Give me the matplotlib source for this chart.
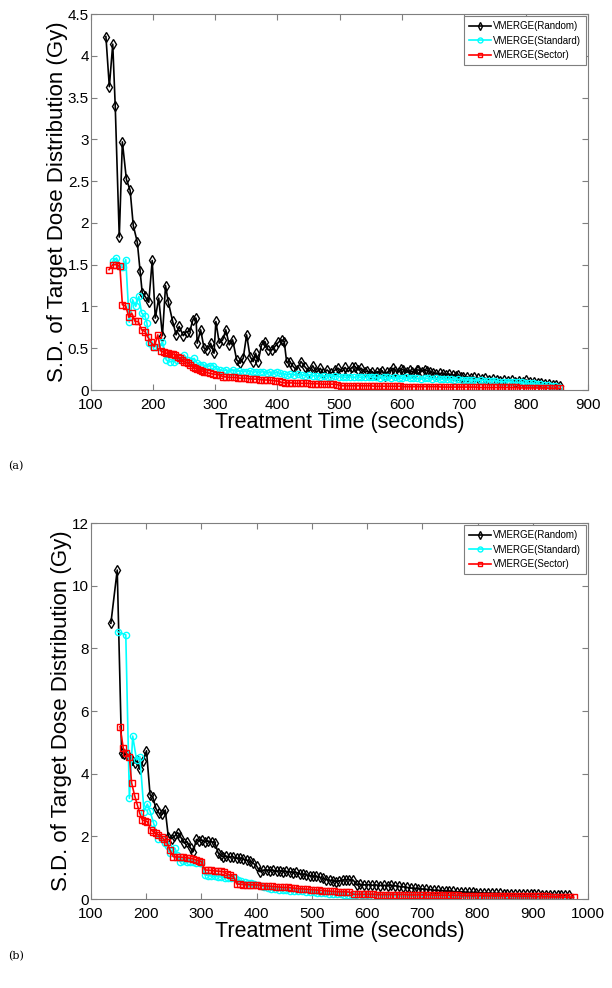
import matplotlib
matplotlib.use("Agg")
import matplotlib.pyplot as plt

plt.rcParams['font.family'] = ['Liberation Sans', 'DejaVu Sans']

# ---------------- (a) : (time s, S.D. Gy) ----------------
a_random = [(124, 4.23), (129.5, 3.63), (135, 4.14), (139, 3.40), (145.5, 1.83), (150.5, 2.97), (157, 2.52),
            (163, 2.39), (168, 1.97), (174.5, 1.77), (179, 1.43), (182.5, 1.16), (187, 1.12), (193, 1.05),
            (198.5, 1.55), (203.5, 0.86), (209, 1.10), (215, 0.65), (220, 1.25), (224.5, 1.05), (231.5, 0.82),
            (237, 0.66), (242, 0.76), (248.5, 0.65), (254, 0.70), (259, 0.70), (264, 0.84), (269, 0.86),
            (271, 0.56), (276.5, 0.72), (282, 0.50), (287, 0.48), (292.5, 0.56), (298, 0.44), (301, 0.82),
            (306.5, 0.56), (312, 0.60), (317, 0.72), (322.5, 0.54), (328, 0.60), (334.5, 0.36), (340, 0.32),
            (345, 0.38), (350.5, 0.66), (356, 0.40), (361, 0.34), (365, 0.44), (369, 0.34), (374.5, 0.54),
            (380, 0.58), (385, 0.48), (391, 0.48), (396, 0.52), (401.5, 0.57), (407, 0.60), (411, 0.58),
            (415, 0.33), (420, 0.34), (425.5, 0.28), (431, 0.24), (438, 0.34),
            (444, 0.28), (451, 0.22), (457, 0.29), (463, 0.21), (469, 0.26), (474, 0.20), (480, 0.24),
            (486, 0.20), (493, 0.24), (498, 0.26), (504, 0.22), (509, 0.27), (514, 0.22), (520, 0.27),
            (525, 0.28), (530, 0.24), (535, 0.26), (541, 0.21), (545, 0.23), (549, 0.19), (553, 0.22),
            (557, 0.18), (561, 0.22), (565, 0.20), (569, 0.23), (573, 0.17), (577, 0.21), (581, 0.22),
            (586, 0.26), (590, 0.23), (595, 0.22), (599, 0.25), (603, 0.24), (608, 0.21), (613, 0.235),
            (617, 0.22), (621, 0.20), (624, 0.24), (627, 0.24), (632, 0.22), (637, 0.245), (641, 0.23),
            (646, 0.21), (651, 0.20), (656, 0.19), (661, 0.20), (667, 0.19), (672, 0.18), (677, 0.19),
            (683, 0.18), (687, 0.17), (691, 0.18), (695, 0.16), (699, 0.15), (705, 0.16), (711, 0.14),
            (717, 0.15), (723, 0.14), (729, 0.13), (735, 0.14), (741, 0.12), (747, 0.13), (753, 0.12),
            (759, 0.11), (765, 0.12), (771, 0.11), (777, 0.12), (783, 0.10), (789, 0.11), (795, 0.10),
            (801, 0.12), (807, 0.09), (813, 0.10), (819, 0.08), (825, 0.08), (831, 0.07), (837, 0.07),
            (843, 0.06), (849, 0.06), (855, 0.05)]

a_standard = [(135, 1.54), (141, 1.58), (148, 1.47), (152, 1.47), (156, 1.56), (161.5, 0.81), (167, 1.08),
              (172, 1.00), (177, 1.12), (181.5, 0.92), (187, 0.88), (190, 0.80), (194, 0.56), (199, 0.52),
              (205, 0.52), (211, 0.52), (215, 0.58), (221, 0.36), (227, 0.34), (233, 0.34), (239, 0.36),
              (244, 0.38), (250, 0.42), (256, 0.36), (261, 0.35), (266, 0.38), (271, 0.32), (276, 0.30),
              (281, 0.30), (287, 0.28), (292, 0.29), (297, 0.29), (302, 0.25), (307, 0.24), (313, 0.23),
              (318, 0.24), (323, 0.22), (329, 0.24), (334, 0.22), (339, 0.23), (345, 0.22), (350, 0.22),
              (356, 0.23), (361, 0.21), (366, 0.22), (372, 0.21), (377, 0.22), (383, 0.20), (388, 0.21),
              (394, 0.20), (399, 0.21), (404, 0.20), (410, 0.19), (415, 0.18), (421, 0.19), (427, 0.18),
              (433, 0.19), (439, 0.18), (445, 0.17), (451, 0.18), (457, 0.17), (463, 0.17), (469, 0.16),
              (475, 0.17), (481, 0.16), (487, 0.16), (493, 0.17), (499, 0.16), (505, 0.16), (511, 0.15),
              (517, 0.16), (523, 0.15), (529, 0.16), (535, 0.15), (541, 0.15), (547, 0.16), (553, 0.15),
              (559, 0.15), (565, 0.14), (571, 0.15), (577, 0.15), (583, 0.14), (589, 0.15), (595, 0.14),
              (601, 0.14), (607, 0.15), (613, 0.14), (619, 0.14), (625, 0.14), (631, 0.13), (637, 0.14),
              (643, 0.14), (649, 0.13), (655, 0.14), (661, 0.13), (667, 0.13), (673, 0.13), (679, 0.13),
              (685, 0.12), (691, 0.13), (697, 0.12), (703, 0.12), (709, 0.12), (715, 0.12), (721, 0.11),
              (727, 0.12), (733, 0.11), (739, 0.11), (745, 0.11), (751, 0.11), (757, 0.10), (763, 0.10),
              (769, 0.10), (775, 0.10), (781, 0.09), (787, 0.09), (793, 0.09), (799, 0.08), (805, 0.08),
              (811, 0.08), (817, 0.07), (823, 0.07), (829, 0.06), (835, 0.06), (841, 0.05), (847, 0.05),
              (853, 0.04)]

a_sector = [(129, 1.44), (135, 1.50), (140, 1.50), (146.5, 1.48), (150.5, 1.02), (156, 1.005), (161, 0.87),
            (165.5, 0.92), (171, 0.82), (176, 0.82), (181.5, 0.72), (187, 0.70), (191, 0.64), (196.5, 0.57),
            (202, 0.52), (207.5, 0.66), (212, 0.47), (217.5, 0.45), (221, 0.44), (224.5, 0.44), (228, 0.43),
            (231.5, 0.43), (236, 0.42), (240, 0.40), (243, 0.38), (246.5, 0.36), (250, 0.34), (253, 0.33),
            (256.5, 0.32), (260, 0.30), (264.5, 0.28), (268, 0.26), (271, 0.25), (275, 0.24), (278, 0.23),
            (282, 0.22), (286, 0.21), (291, 0.20), (297, 0.19), (302, 0.185), (307.5, 0.18), (312, 0.16),
            (318, 0.155), (324, 0.15), (330, 0.15), (336, 0.145), (342, 0.14), (348, 0.14), (354, 0.135),
            (360, 0.13), (366, 0.13), (372, 0.125), (378, 0.12), (384, 0.12), (390, 0.115), (396, 0.11),
            (402, 0.105), (407, 0.09), (412, 0.085), (418, 0.085), (424, 0.085), (430, 0.08), (436, 0.08),
            (442, 0.08), (448, 0.08), (454, 0.075), (460, 0.075), (466, 0.075), (472, 0.07), (478, 0.07),
            (484, 0.07), (490, 0.07), (496, 0.065), (502, 0.05), (508, 0.05), (514, 0.05), (520, 0.05),
            (526, 0.05), (532, 0.05), (538, 0.05), (544, 0.05), (550, 0.05), (556, 0.045), (562, 0.045),
            (568, 0.045), (574, 0.045), (580, 0.045), (586, 0.045), (592, 0.045), (598, 0.045), (604, 0.04),
            (610, 0.04), (616, 0.04), (622, 0.04), (628, 0.04), (634, 0.04), (640, 0.04), (646, 0.04),
            (652, 0.04), (658, 0.04), (664, 0.035), (670, 0.035), (676, 0.035), (682, 0.035), (688, 0.035),
            (694, 0.035), (700, 0.035), (706, 0.035), (712, 0.035), (718, 0.035), (724, 0.03), (730, 0.03),
            (736, 0.03), (742, 0.03), (748, 0.03), (754, 0.03), (760, 0.03), (766, 0.03), (772, 0.03),
            (778, 0.03), (784, 0.03), (790, 0.025), (796, 0.025), (802, 0.025), (808, 0.025), (814, 0.025),
            (820, 0.025), (826, 0.025), (832, 0.025), (838, 0.02), (844, 0.02), (850, 0.02), (855, 0.02)]

# ---------------- (b) : (time s, S.D. Gy) ----------------
b_random = [(136, 8.80), (147.5, 10.50), (155.5, 4.67), (160.5, 4.63), (165, 4.60), (169, 4.54), (175, 4.45),
            (180, 4.35), (183, 4.44), (188.5, 4.14), (194, 4.40), (200.5, 4.73), (207, 3.32), (212, 3.25),
            (217.5, 2.89), (223.5, 2.73), (229, 2.70), (234.5, 2.84), (240, 1.99), (246, 1.93), (251, 2.00),
            (257, 2.12), (262, 1.99), (269, 1.78), (274, 1.83), (280.5, 1.62), (285, 1.51), (291, 1.90),
            (296, 1.85), (301, 1.88), (306, 1.83), (312, 1.85), (318.5, 1.83), (324.5, 1.78), (330.5, 1.46),
            (335, 1.40), (339.5, 1.35), (345, 1.37), (351, 1.33), (357, 1.35), (363.5, 1.30), (370, 1.30),
            (376, 1.27), (382, 1.24), (388, 1.20), (394, 1.14), (400, 1.05), (406, 0.87), (412, 0.92),
            (418, 0.93), (424, 0.90), (430, 0.92), (436, 0.88), (442, 0.90), (448, 0.87), (454, 0.88),
            (460, 0.87), (466, 0.83), (472, 0.85), (478, 0.80), (484, 0.79), (490, 0.77), (496, 0.75),
            (502, 0.72), (508, 0.73), (514, 0.69), (520, 0.66), (526, 0.62), (532, 0.60), (538, 0.58),
            (544, 0.55), (550, 0.58), (556, 0.61), (562, 0.61), (568, 0.62), (575, 0.60), (581, 0.45),
            (588, 0.47), (595, 0.45), (602, 0.46), (609, 0.44), (616, 0.45), (623, 0.43), (630, 0.44),
            (637, 0.43), (644, 0.44), (651, 0.42), (658, 0.40), (665, 0.39), (672, 0.37), (679, 0.35),
            (686, 0.34), (693, 0.33), (700, 0.32), (707, 0.31), (714, 0.30), (721, 0.28), (728, 0.28),
            (735, 0.27), (742, 0.25), (749, 0.25), (756, 0.24), (763, 0.23), (770, 0.23), (777, 0.22),
            (784, 0.21), (791, 0.21), (798, 0.20), (805, 0.20), (812, 0.19), (819, 0.19), (826, 0.18),
            (833, 0.18), (840, 0.18), (847, 0.17), (854, 0.17), (861, 0.17), (868, 0.16), (875, 0.16),
            (882, 0.16), (889, 0.15), (896, 0.15), (903, 0.15), (910, 0.15), (917, 0.14), (924, 0.14),
            (931, 0.14), (938, 0.14), (945, 0.13), (952, 0.13), (959, 0.13), (966, 0.12)]

b_standard = [(148, 8.53), (163, 8.43), (169.5, 3.21), (175.5, 5.20), (182.5, 4.44), (188.5, 4.54), (196, 2.79),
              (202, 3.03), (207, 2.80), (213, 2.44), (222, 1.93), (228, 1.90), (234, 1.80), (240, 1.70),
              (243, 1.46), (247, 1.55), (252, 1.62), (256, 1.40), (261, 1.19), (267, 1.20), (273, 1.19),
              (279, 1.19), (285, 1.18), (291, 1.16), (297, 1.15), (300, 1.14), (306, 0.77), (312, 0.75),
              (318, 0.73), (324, 0.72), (330, 0.71), (336, 0.70), (342, 0.68), (348, 0.67), (354, 0.66),
              (360, 0.66), (366, 0.62), (372, 0.58), (378, 0.55), (384, 0.52), (390, 0.50), (396, 0.48),
              (402, 0.45), (408, 0.42), (414, 0.38), (420, 0.35), (426, 0.32), (433, 0.31), (440, 0.30),
              (447, 0.29), (454, 0.28), (461, 0.27), (468, 0.26), (475, 0.25), (482, 0.24), (489, 0.23),
              (496, 0.22), (503, 0.21), (510, 0.20), (517, 0.19), (524, 0.18), (531, 0.17), (538, 0.16),
              (545, 0.16), (552, 0.15), (559, 0.14), (566, 0.14), (573, 0.13), (580, 0.13), (590, 0.12),
              (600, 0.12), (610, 0.11), (620, 0.11), (630, 0.10), (640, 0.10), (650, 0.10), (660, 0.09),
              (670, 0.09), (680, 0.09), (690, 0.08), (700, 0.08), (710, 0.08), (720, 0.07), (730, 0.07),
              (740, 0.07), (750, 0.06), (760, 0.06), (770, 0.06), (780, 0.06), (790, 0.05), (800, 0.05),
              (810, 0.05), (820, 0.05), (830, 0.04), (840, 0.04), (850, 0.04), (860, 0.04), (870, 0.03),
              (880, 0.03), (890, 0.03), (900, 0.03), (910, 0.02), (920, 0.02), (930, 0.02), (940, 0.02),
              (950, 0.01), (960, 0.01), (966, 0.01)]

b_sector = [(152.5, 5.50), (158.5, 4.81), (164, 4.65), (169.5, 4.54), (173.5, 3.71), (179, 3.30), (184, 3.00),
            (188, 2.75), (193, 2.52), (197, 2.50), (202, 2.47), (208.5, 2.20), (213, 2.15), (217.5, 2.10),
            (222, 2.05), (228, 1.99), (232, 1.90), (237, 1.83), (243, 1.56), (249, 1.35), (255, 1.34),
            (261, 1.34), (267, 1.33), (273, 1.32), (279, 1.30), (285, 1.28), (291, 1.24), (296, 1.22),
            (300, 1.19), (306, 0.93), (312, 0.92), (318, 0.91), (324, 0.90), (330, 0.89), (336, 0.88),
            (340, 0.87), (346, 0.80), (352, 0.76), (358, 0.71), (364, 0.48), (370, 0.47), (376, 0.46),
            (382, 0.46), (388, 0.45), (394, 0.45), (400, 0.45), (407, 0.43), (414, 0.42), (421, 0.41),
            (428, 0.40), (435, 0.39), (442, 0.38), (449, 0.37), (456, 0.37), (463, 0.36), (470, 0.34),
            (477, 0.33), (484, 0.32), (491, 0.31), (498, 0.30), (505, 0.29), (512, 0.28), (519, 0.27),
            (526, 0.26), (533, 0.25), (540, 0.24), (547, 0.23), (554, 0.23), (561, 0.23), (568, 0.22),
            (576, 0.15), (583, 0.15), (590, 0.15), (597, 0.15), (604, 0.15), (611, 0.15), (618, 0.14),
            (625, 0.14), (632, 0.14), (639, 0.14), (646, 0.14), (653, 0.14), (660, 0.14), (667, 0.14),
            (674, 0.13), (681, 0.13), (688, 0.13), (695, 0.13), (702, 0.13), (709, 0.13), (716, 0.13),
            (723, 0.12), (730, 0.12), (737, 0.12), (744, 0.12), (751, 0.12), (758, 0.12), (765, 0.12),
            (772, 0.11), (779, 0.11), (786, 0.11), (793, 0.11), (800, 0.11), (807, 0.11), (814, 0.11),
            (821, 0.11), (828, 0.10), (835, 0.10), (842, 0.10), (849, 0.10), (856, 0.10), (863, 0.10),
            (870, 0.09), (877, 0.09), (884, 0.09), (891, 0.09), (898, 0.09), (905, 0.08), (912, 0.08),
            (919, 0.08), (926, 0.08), (933, 0.07), (940, 0.07), (947, 0.07), (954, 0.06), (961, 0.06),
            (968, 0.06), (974, 0.05)]

labels = ['VMERGE(Random)', 'VMERGE(Standard)', 'VMERGE(Sector)']

a_xticks = [100, 200, 300, 400, 500, 600, 700, 800, 900]
a_yticks = [0, 0.5, 1, 1.5, 2, 2.5, 3, 3.5, 4, 4.5]
a_ytick_labels = ['0', '0.5', '1', '1.5', '2', '2.5', '3', '3.5', '4', '4.5']
b_xticks = [100, 200, 300, 400, 500, 600, 700, 800, 900, 1000]
b_yticks = [0, 2, 4, 6, 8, 10, 12]
b_ytick_labels = ['0', '2', '4', '6', '8', '10', '12']

W, H = 612, 988
fig = plt.figure(figsize=(W / 100, H / 100), dpi=100)
ax1 = fig.add_axes([91 / W, 1 - 390 / H, 497 / W, 376 / H])
ax2 = fig.add_axes([91 / W, 1 - 899 / H, 497 / W, 376 / H])

spine_col = '#7f7f7f'


def xy(pairs):
    t, s = zip(*pairs)
    return list(t), list(s)


def draw(ax, rnd, std, sec, xt, xlim, yt, ylim, ytl):
    t, s = xy(rnd)
    ax.plot(t, s, color='black', lw=1.2, marker='d', ms=5, mfc='none', mec='black', mew=1.0,
            label=labels[0])
    t, s = xy(std)
    ax.plot(t, s, color='#00ffff', lw=1.2, marker='o', ms=4.5, mfc='none', mec='#00ffff', mew=1.0,
            label=labels[1])
    t, s = xy(sec)
    ax.plot(t, s, color='#ff0000', lw=1.2, marker='s', ms=3.8, mfc='none', mec='#ff0000', mew=1.0,
            label=labels[2])
    ax.set_xlim(*xlim)
    ax.set_ylim(*ylim)
    ax.set_xticks(xt)
    ax.set_xticklabels([str(v) for v in xt])
    ax.set_yticks(yt)
    ax.set_yticklabels(ytl)
    for sp in ax.spines.values():
        sp.set_color(spine_col)
        sp.set_linewidth(0.8)
    ax.tick_params(axis='both', direction='in', top=True, right=True, length=4, width=0.8,
                   color=spine_col, labelsize=11, labelcolor='black')
    ax.tick_params(axis='x', pad=6)
    ax.tick_params(axis='y', pad=1.5)
    ax.set_xlabel('Treatment Time (seconds)', fontsize=15.5, labelpad=0)
    ax.set_ylabel('S.D. of Target Dose Distribution (Gy)', fontsize=16, labelpad=0)
    leg = ax.legend(loc='upper right', bbox_to_anchor=(1.0, 1.0), borderaxespad=0.2,
                    prop={'size': 7}, fancybox=False, framealpha=1, edgecolor=spine_col,
                    handlelength=2.26, handletextpad=0.15, labelspacing=0.45, borderpad=0.55,
                    markerscale=0.8)
    leg.get_frame().set_linewidth(0.8)


draw(ax1, a_random, a_standard, a_sector, a_xticks, (100, 900), a_yticks, (0, 4.5), a_ytick_labels)
draw(ax2, b_random, b_standard, b_sector, b_xticks, (100, 1000), b_yticks, (0, 12), b_ytick_labels)

fig.text(8 / W, 1 - 466 / H, '(a)', fontsize=8, family=['DejaVu Serif'], va='center', ha='left')
fig.text(8 / W, 1 - 956 / H, '(b)', fontsize=8, family=['DejaVu Serif'], va='center', ha='left')

fig.savefig('out.png', dpi=100)
